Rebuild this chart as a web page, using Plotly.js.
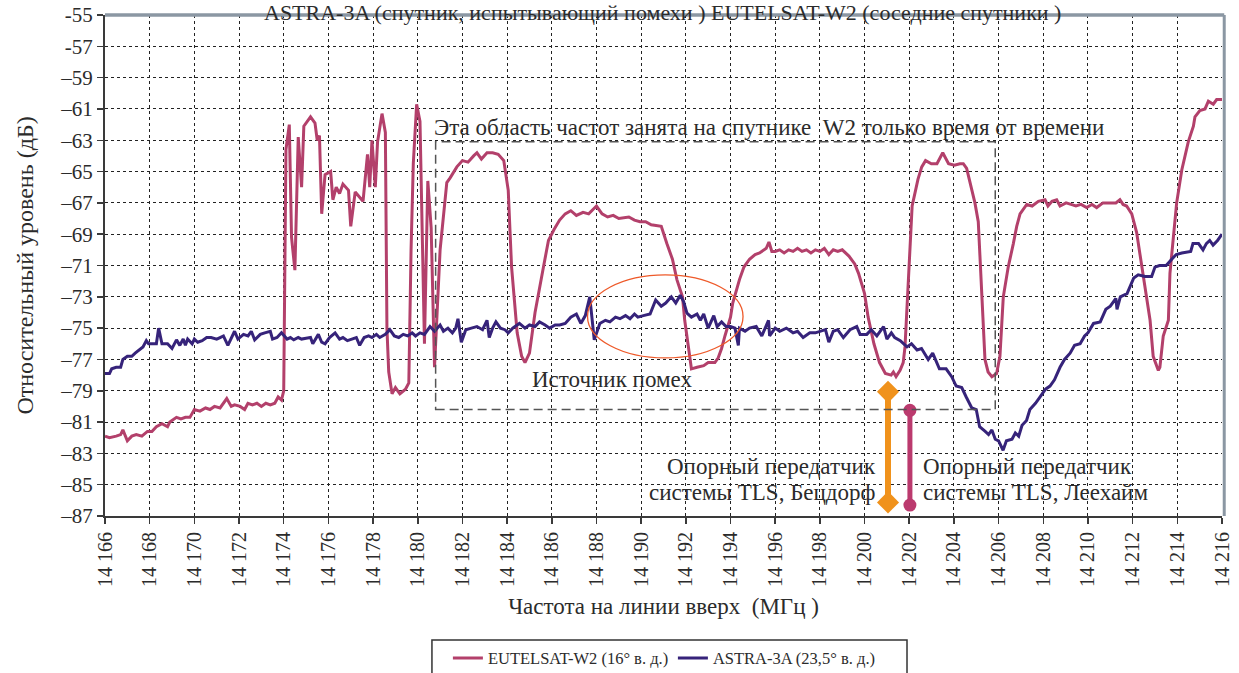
<!DOCTYPE html>
<html>
<head>
<meta charset="utf-8">
<script src="https://cdn.plot.ly/plotly-3.0.1.min.js"></script>
<style>html,body{margin:0;padding:0;background:#fff;}#chart{width:1239px;height:673px;}</style>
</head>
<body>
<div id="chart"></div>
<script>
// ---- data: EUTELSAT-W2 (16° в. д.) ----
const euFreq = [14166.0,14166.2,14166.5,14166.7,14166.8,14167.0,14167.2,14167.4,14167.65,14167.9,14168.1,14168.3,14168.55,14168.8,14168.9,14169.2,14169.4,14169.6,14169.8,14170.0,14170.25,14170.5,14170.7,14170.9,14171.15,14171.3,14171.45,14171.65,14171.8,14172.05,14172.25,14172.4,14172.6,14172.8,14173.0,14173.2,14173.4,14173.6,14173.75,14173.9,14174.0,14174.1,14174.25,14174.35,14174.5,14174.65,14174.8,14174.9,14175.2,14175.4,14175.5,14175.6,14175.7,14175.85,14176.1,14176.2,14176.35,14176.5,14176.65,14176.9,14177.0,14177.2,14177.55,14177.75,14177.85,14177.95,14178.1,14178.2,14178.4,14178.55,14178.62,14178.7,14178.85,14179.0,14179.2,14179.45,14179.6,14179.7,14179.8,14179.95,14180.1,14180.3,14180.45,14180.6,14180.75,14181.0,14181.3,14181.45,14181.75,14182.0,14182.25,14182.5,14182.65,14182.85,14183.1,14183.35,14183.6,14183.85,14184.05,14184.2,14184.45,14184.65,14184.8,14185.0,14185.25,14185.6,14185.85,14186.1,14186.35,14186.6,14186.85,14187.1,14187.4,14187.65,14188.0,14188.25,14188.5,14188.75,14189.0,14189.45,14189.7,14189.95,14190.2,14190.45,14190.9,14191.15,14191.4,14191.6,14191.85,14191.95,14192.1,14192.25,14192.5,14192.8,14193.0,14193.3,14193.45,14193.6,14193.75,14194.0,14194.1,14194.3,14194.4,14194.6,14194.85,14195.1,14195.3,14195.6,14195.72,14195.85,14196.0,14196.2,14196.4,14196.6,14196.8,14197.0,14197.2,14197.4,14197.6,14197.8,14198.0,14198.2,14198.4,14198.6,14198.8,14199.0,14199.15,14199.3,14199.56,14199.73,14200.0,14200.16,14200.42,14200.67,14200.93,14201.19,14201.29,14201.41,14201.59,14201.73,14201.81,14201.89,14201.96,14202.13,14202.39,14202.56,14202.73,14202.99,14203.24,14203.5,14203.76,14204.02,14204.27,14204.42,14204.57,14204.79,14204.94,14205.09,14205.24,14205.39,14205.53,14205.7,14205.91,14206.06,14206.21,14206.43,14206.66,14206.81,14206.96,14207.26,14207.5,14207.78,14208.08,14208.21,14208.39,14208.6,14208.75,14209.02,14209.24,14209.46,14209.69,14209.94,14210.18,14210.39,14210.67,14210.99,14211.25,14211.43,14211.57,14211.73,14211.96,14212.18,14212.41,14212.63,14212.78,14212.92,14213.15,14213.22,14213.37,14213.6,14213.67,14213.97,14214.2,14214.49,14214.72,14214.79,14215.01,14215.24,14215.39,14215.61,14215.76,14216.0];
const euLevel = [-81.9,-82.0,-81.9,-81.8,-81.5,-82.2,-81.9,-81.8,-81.9,-81.6,-81.6,-81.3,-81.1,-81.3,-81.0,-80.7,-80.8,-80.7,-80.7,-80.2,-80.3,-80.1,-80.2,-80.0,-80.1,-79.8,-79.5,-80.0,-79.9,-80.0,-80.2,-79.8,-79.9,-79.8,-80.0,-79.8,-79.9,-79.8,-79.4,-79.6,-79.0,-63.6,-62.0,-69.2,-71.3,-62.8,-66.0,-62.1,-61.5,-61.9,-63.0,-62.7,-67.7,-65.2,-65.0,-66.8,-66.0,-66.4,-65.8,-66.2,-68.5,-66.3,-66.9,-63.9,-66.0,-63.0,-66.0,-63.1,-61.3,-62.5,-75.0,-77.8,-79.2,-78.8,-79.2,-78.9,-78.5,-70.0,-64.5,-60.7,-61.8,-76.0,-65.6,-68.6,-77.5,-70.0,-65.7,-65.4,-64.7,-64.3,-64.4,-64.0,-63.8,-64.2,-63.8,-63.8,-63.9,-64.3,-66.2,-71.1,-75.3,-76.8,-77.2,-76.6,-74.0,-71.3,-69.4,-68.7,-68.1,-67.7,-67.5,-67.8,-67.6,-67.7,-67.2,-67.7,-67.9,-67.8,-68.0,-67.9,-68.1,-68.2,-68.2,-68.4,-68.5,-69.6,-70.6,-71.9,-73.0,-74.5,-76.2,-77.6,-77.5,-77.4,-77.2,-77.2,-76.9,-76.3,-75.5,-74.3,-73.4,-72.4,-71.9,-71.1,-70.6,-70.3,-70.2,-69.9,-69.5,-70.1,-70.1,-70.0,-70.2,-70.0,-70.1,-69.9,-70.1,-70.0,-70.2,-70.0,-70.1,-69.9,-70.3,-70.0,-70.1,-70.0,-70.2,-70.4,-70.9,-71.5,-72.8,-74.3,-76.0,-77.2,-77.9,-78.0,-77.8,-78.1,-77.7,-77.2,-76.2,-74.1,-71.5,-67.2,-65.5,-64.7,-64.3,-64.5,-64.5,-63.8,-64.5,-64.6,-64.5,-64.5,-64.8,-66.0,-67.0,-68.2,-72.5,-77.0,-77.8,-78.1,-77.9,-76.8,-73.0,-71.1,-69.6,-68.5,-67.7,-67.1,-67.2,-66.9,-66.8,-67.2,-66.9,-66.8,-67.2,-67.0,-67.1,-67.2,-67.1,-67.3,-67.1,-67.3,-67.0,-67.0,-67.0,-66.8,-67.1,-67.2,-67.7,-68.9,-71.1,-73.2,-74.5,-76.8,-77.7,-77.5,-75.5,-74.5,-71.5,-67.0,-64.9,-63.1,-62.1,-61.5,-61.1,-61.0,-60.5,-60.7,-60.4,-60.4];

// ---- data: ASTRA-3A (23,5° в. д.) ----
const asFreq = [14166.0,14166.2,14166.3,14166.5,14166.7,14166.8,14167.0,14167.2,14167.35,14167.55,14167.7,14167.85,14167.95,14168.1,14168.3,14168.4,14168.55,14168.8,14169.0,14169.2,14169.35,14169.5,14169.6,14169.7,14169.9,14170.0,14170.15,14170.35,14170.55,14170.75,14171.0,14171.15,14171.3,14171.5,14171.7,14171.8,14171.95,14172.2,14172.4,14172.55,14172.7,14172.95,14173.15,14173.4,14173.5,14173.7,14173.9,14174.15,14174.3,14174.45,14174.65,14174.8,14175.0,14175.2,14175.3,14175.55,14175.7,14175.85,14176.05,14176.3,14176.5,14176.65,14176.85,14177.05,14177.25,14177.4,14177.6,14177.8,14177.95,14178.15,14178.3,14178.55,14178.75,14178.95,14179.15,14179.35,14179.55,14179.75,14179.9,14180.1,14180.3,14180.55,14180.75,14181.0,14181.15,14181.35,14181.55,14181.7,14181.8,14181.95,14182.15,14182.4,14182.65,14182.9,14183.1,14183.2,14183.35,14183.5,14183.7,14183.9,14184.05,14184.25,14184.55,14184.8,14185.0,14185.25,14185.45,14185.7,14185.9,14186.15,14186.35,14186.6,14186.85,14187.1,14187.3,14187.5,14187.7,14187.9,14188.15,14188.4,14188.6,14188.85,14189.05,14189.3,14189.5,14189.7,14189.85,14190.1,14190.4,14190.65,14190.9,14191.1,14191.35,14191.55,14191.75,14191.9,14192.05,14192.25,14192.5,14192.65,14192.8,14193.0,14193.25,14193.4,14193.6,14193.8,14194.0,14194.2,14194.35,14194.4,14194.65,14194.85,14195.15,14195.4,14195.7,14195.75,14196.0,14196.2,14196.5,14196.8,14197.0,14197.25,14197.55,14197.8,14198.0,14198.25,14198.4,14198.6,14198.8,14199.05,14199.35,14199.65,14199.8,14200.1,14200.3,14200.55,14200.85,14201.0,14201.2,14201.35,14201.6,14201.9,14202.1,14202.35,14202.55,14202.85,14203.05,14203.35,14203.65,14203.9,14204.1,14204.35,14204.55,14204.8,14205.0,14205.15,14205.4,14205.55,14205.7,14205.85,14206.0,14206.2,14206.35,14206.6,14206.75,14206.9,14207.05,14207.25,14207.4,14207.65,14207.85,14208.1,14208.3,14208.5,14208.75,14208.95,14209.2,14209.4,14209.65,14209.85,14210.0,14210.25,14210.55,14210.8,14211.0,14211.25,14211.3,14211.45,14211.75,14211.95,14212.05,14212.25,14212.55,14212.85,14213.0,14213.2,14213.5,14213.75,14213.95,14214.2,14214.6,14214.7,14214.95,14215.15,14215.3,14215.45,14215.6,14215.8,14216.0];
const asLevel = [-77.9,-77.9,-77.6,-77.5,-77.5,-77.0,-76.8,-76.8,-76.6,-76.4,-76.2,-75.8,-76.0,-76.0,-76.0,-75.0,-76.0,-76.0,-76.3,-75.75,-76.1,-75.7,-76.1,-75.7,-76.0,-75.7,-75.9,-75.8,-75.6,-75.6,-75.7,-75.6,-75.5,-76.1,-75.5,-75.2,-75.7,-75.4,-75.5,-75.2,-75.75,-75.4,-75.3,-75.2,-75.7,-75.6,-75.3,-75.7,-75.6,-75.75,-75.6,-75.7,-75.65,-75.6,-76.0,-75.4,-75.9,-76.0,-75.6,-75.3,-75.7,-75.6,-75.8,-75.7,-75.6,-76.1,-75.6,-75.5,-75.6,-75.4,-75.6,-75.4,-75.1,-75.5,-75.6,-75.4,-75.5,-75.3,-75.5,-75.3,-75.4,-74.9,-75.2,-74.8,-75.2,-75.0,-75.3,-75.0,-74.4,-75.9,-75.1,-75.0,-74.9,-75.1,-74.5,-75.6,-75.0,-74.6,-75.0,-75.1,-75.3,-75.0,-74.7,-75.0,-74.8,-74.9,-74.6,-74.8,-75.0,-74.8,-74.8,-74.7,-74.3,-74.1,-74.7,-74.2,-73.0,-75.75,-74.7,-74.5,-74.6,-74.3,-74.4,-74.2,-74.4,-74.1,-74.3,-74.2,-74.1,-73.2,-73.6,-73.4,-73.0,-73.4,-72.9,-73.3,-74.05,-74.3,-74.1,-74.5,-74.1,-75.0,-74.2,-74.9,-74.6,-74.9,-74.9,-75.0,-76.1,-75.0,-75.2,-75.0,-74.9,-75.5,-74.5,-75.5,-75.0,-75.2,-75.0,-75.3,-75.2,-75.6,-75.3,-75.3,-75.2,-75.1,-75.9,-75.2,-75.1,-75.6,-75.1,-74.9,-75.4,-75.4,-75.1,-75.5,-74.9,-75.7,-75.3,-75.6,-75.8,-76.2,-76.0,-76.4,-76.3,-77.0,-76.6,-77.6,-77.6,-78.1,-78.7,-78.8,-79.4,-80.1,-80.2,-81.3,-81.6,-81.8,-81.5,-82.1,-82.2,-82.8,-82.2,-82.1,-81.7,-81.9,-81.2,-80.9,-80.2,-79.8,-79.4,-78.9,-78.7,-78.3,-77.5,-77.0,-76.6,-76.1,-76.0,-75.5,-75.3,-74.7,-74.6,-73.8,-73.6,-73.1,-73.8,-73.0,-72.8,-72.1,-71.8,-71.6,-71.7,-71.7,-71.1,-71.0,-71.0,-70.6,-70.3,-70.2,-70.1,-69.6,-69.6,-70.0,-69.6,-69.4,-69.7,-69.4,-69.0];

// ---- axes ----
const xTickVals = [14166,14168,14170,14172,14174,14176,14178,14180,14182,14184,14186,14188,14190,14192,14194,14196,14198,14200,14202,14204,14206,14208,14210,14212,14214,14216];
const xTickText = ["14 166","14 168","14 170","14 172","14 174","14 176","14 178","14 180","14 182","14 184","14 186","14 188","14 190","14 192","14 194","14 196","14 198","14 200","14 202","14 204","14 206","14 208","14 210","14 212","14 214","14 216"];
const yTickVals = [-87,-85,-83,-81,-79,-77,-75,-73,-71,-69,-67,-65,-63,-61,-59,-57,-55];
const yTickText = ["–87","–85","–83","–81","–79","–77","–75","–73","–71","–69","–67","–65","–63","–61","–59","-57","-55"];

// ---- annotation anchors (data coordinates) ----
const busyBandFreq = [14180.8, 14205.85];
const busyBandLevel = [-80.2, -63.1];
const sourceFreq = [14187.6, 14194.56];
const sourceLevel = [-76.9, -71.6];
const betzdorfFreq = [14201.05, 14201.05];
const betzdorfLevel = [-79.07, -86.13];
const leeheimFreq = [14202.03, 14202.03];
const leeheimLevel = [-80.25, -86.3];

const FONT = "Liberation Serif";
const TXT = "#2b2b2b";

const traces = [
  {x: euFreq, y: euLevel, type: "scatter", mode: "lines", name: "EUTELSAT-W2 (16° в. д.)",
   line: {color: "#b3406b", width: 3}},
  {x: asFreq, y: asLevel, type: "scatter", mode: "lines", name: "ASTRA-3A (23,5° в. д.)",
   line: {color: "#36237a", width: 3}},
  {x: betzdorfFreq, y: betzdorfLevel, type: "scatter", mode: "lines+markers", showlegend: false, hoverinfo: "skip",
   line: {color: "#f0921c", width: 6}, marker: {symbol: "diamond", size: 17, color: "#f0921c"}},
  {x: leeheimFreq, y: leeheimLevel, type: "scatter", mode: "lines+markers", showlegend: false, hoverinfo: "skip",
   line: {color: "#bb3a6e", width: 5}, marker: {symbol: "circle", size: 13, color: "#bb3a6e"}}
];

function txt(x, y, text, anchor) {
  return {xref: "x", yref: "y", x: x, y: y, xanchor: anchor, yanchor: "middle", showarrow: false,
          text: text, font: {family: FONT, size: 23, color: TXT}};
}

const layout = {
  width: 1239, height: 673,
  margin: {l: 105, r: 17, t: 15, b: 157, autoexpand: false},
  paper_bgcolor: "#ffffff", plot_bgcolor: "#ffffff",
  font: {family: FONT, color: TXT, size: 21},
  showlegend: true,
  legend: {orientation: "h", xref: "container", yref: "container", x: 0.3615, xanchor: "left", y: 0.048, yanchor: "top",
           font: {family: FONT, size: 16.5, color: TXT}, bgcolor: "rgba(0,0,0,0)",
           itemwidth: 30, entrywidth: 180, traceorder: "normal"},
  xaxis: {range: [14166, 14216], tickmode: "array", tickvals: xTickVals, ticktext: xTickText,
          tickangle: -90, tickfont: {family: FONT, size: 20, color: TXT}, automargin: false,
          showgrid: true, gridcolor: "#222", griddash: "dot", gridwidth: 1,
          showline: true, linecolor: "#3a3a3a", linewidth: 2, ticks: "outside", ticklen: 6,
          tickcolor: "#3a3a3a", tickwidth: 1.5, zeroline: false, fixedrange: true,
          title: {text: "Частота на линии вверх  (МГц )", font: {family: FONT, size: 23, color: TXT}, standoff: 12}},
  yaxis: {range: [-87, -55], tickmode: "array", tickvals: yTickVals, ticktext: yTickText,
          tickfont: {family: FONT, size: 21, color: TXT}, automargin: false,
          showgrid: true, gridcolor: "#222", griddash: "dot", gridwidth: 1,
          showline: true, linecolor: "#3a3a3a", linewidth: 2, ticks: "outside", ticklen: 6,
          tickcolor: "#3a3a3a", tickwidth: 1.5, zeroline: false, fixedrange: true,
          title: {text: "Относительный уровень (дБ)", font: {family: FONT, size: 24, color: TXT}, standoff: 20}},
  shapes: [
    {type: "rect", xref: "x", yref: "y", x0: busyBandFreq[0], x1: busyBandFreq[1], y0: busyBandLevel[0], y1: busyBandLevel[1],
     line: {color: "#555", width: 1.5, dash: "9px,5px"}},
    {type: "circle", xref: "x", yref: "y", x0: sourceFreq[0], x1: sourceFreq[1], y0: sourceLevel[0], y1: sourceLevel[1],
     line: {color: "#ee5a2a", width: 1.3}},
    {type: "line", xref: "paper", yref: "paper", x0: 0, x1: 1.002, y0: 1, y1: 1, line: {color: "#8b97a3", width: 3.5}},
    {type: "line", xref: "paper", yref: "paper", x0: 1.002, x1: 1.002, y0: 0, y1: 1, line: {color: "#8b97a3", width: 3}},
    {type: "rect", xref: "paper", yref: "paper", x0: 0.2927, x1: 0.718, y0: -0.2475, y1: -0.36,
     line: {color: "#333", width: 1.5}}
  ],
  annotations: [
    {xref: "paper", yref: "paper", x: 0.4987, y: 1.005, xanchor: "center", yanchor: "middle", showarrow: false,
     text: "ASTRA-3A (спутник, испытывающий помехи ) EUTELSAT-W2 (соседние спутники )",
     font: {family: FONT, size: 22, color: TXT}},
    txt(14180.64, -62.2, "Эта область частот занята на спутнике  W2 только время от времени", "left"),
    txt(14188.7, -78.3, "Источник помех", "center"),
    txt(14200.6, -83.86, "Опорный передатчик", "right"),
    txt(14200.6, -85.52, "системы TLS, Бецдорф", "right"),
    txt(14202.53, -83.86, "Опорный передатчик", "left"),
    txt(14202.53, -85.52, "системы TLS, Леехайм", "left")
  ]
};

Plotly.newPlot("chart", traces, layout, {staticPlot: true, displayModeBar: false});
</script>
</body>
</html>
